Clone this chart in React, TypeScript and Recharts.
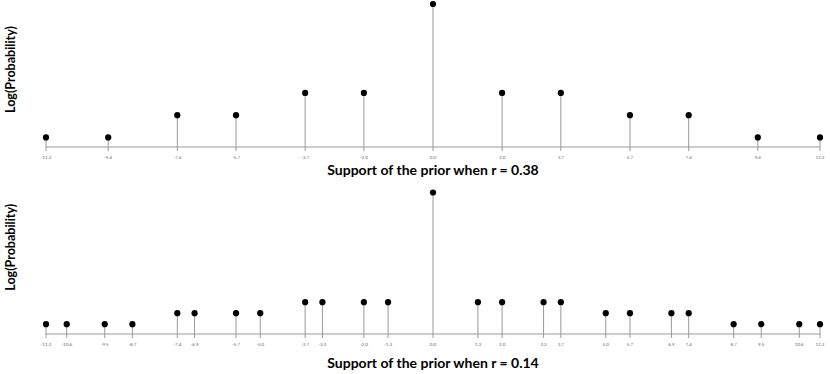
import React from "react";
import {
  ComposedChart,
  Scatter,
  XAxis,
  YAxis,
  ErrorBar,
} from "recharts";

// r = 0.38
const supportTop = [-11.2, -9.4, -7.4, -5.7, -3.7, -2.0, 0, 2.0, 3.7, 5.7, 7.4, 9.4, 11.2];
const logProbTop = [-6, -6, -5, -5, -4, -4, 0, -4, -4, -5, -5, -6, -6];

// r = 0.14
const supportBottom = [
  -11.2, -10.6, -9.5, -8.7, -7.4, -6.9, -5.7, -5.0, -3.7, -3.2, -2.0, -1.3, 0,
  1.3, 2.0, 3.2, 3.7, 5.0, 5.7, 6.9, 7.4, 8.7, 9.5, 10.6, 11.2,
];
const logProbBottom = [
  -12, -12, -12, -12, -11, -11, -11, -11, -10, -10, -10, -10, 0,
  -10, -10, -10, -10, -11, -11, -11, -11, -12, -12, -12, -12,
];

const FONT = "Lato, 'Open Sans', sans-serif";

const Dot = (props: any) => {
  const { cx, cy } = props;
  if (cx == null || cy == null) return null;
  return <circle cx={cx} cy={cy} r={3.1} fill="#000" />;
};

function StemPlot({
  xs,
  ys,
  base,
  title,
  width,
  height,
  top,
  titleOffset,
  labelDy,
}: {
  xs: number[];
  ys: number[];
  base: number;
  title: string;
  width: number;
  height: number;
  top: number;
  titleOffset: number;
  labelDy: number;
}) {
  // the stem is an error bar from the point down to the bottom of the axis
  const data = xs.map((x, i) => ({ x, y: ys[i], stem: [ys[i] - base, 0] }));

  return (
    <ComposedChart
      width={width}
      height={height}
      data={data}
      margin={{ top, right: 10, bottom: 0, left: 0 }}
    >
      <XAxis
        type="number"
        dataKey="x"
        domain={[-11.2, 11.2]}
        ticks={xs}
        interval={0}
        tickFormatter={(v: number) => v.toFixed(1)}
        stroke="#999"
        tickSize={4}
        tickMargin={5}
        tick={{ fontSize: 4.5, fill: "#666", fontFamily: FONT }}
        height={40}
        label={{
          value: title,
          position: "insideTop",
          offset: titleOffset,
          style: {
            fontSize: 14,
            fontWeight: 700,
            fill: "#000",
            fontFamily: FONT,
          },
        }}
      />
      <YAxis
        type="number"
        dataKey="y"
        domain={[base, 0]}
        width={46}
        tick={false}
        axisLine={false}
        tickLine={false}
        label={{
          value: "Log(Probability)",
          angle: -90,
          position: "insideLeft",
          offset: 11,
          dy: labelDy,
          style: {
            textAnchor: "middle",
            fontSize: 12.5,
            fontWeight: 700,
            fill: "#000",
            fontFamily: FONT,
          },
        }}
      />
      <Scatter dataKey="y" shape={<Dot />} isAnimationActive={false}>
        <ErrorBar
          dataKey="stem"
          direction="y"
          width={0}
          stroke="#999"
          strokeWidth={1}
          isAnimationActive={false}
        />
      </Scatter>
    </ComposedChart>
  );
}

export default function App() {
  return (
    <div
      style={{
        position: "absolute",
        left: 0,
        top: 0,
        width: 830,
        height: 374,
        background: "#fff",
      }}
    >
      <div style={{ position: "absolute", left: 0, top: 0 }}>
        <StemPlot
          xs={supportTop}
          ys={logProbTop}
          base={-6.43}
          title="Support of the prior when r = 0.38"
          width={830}
          height={187}
          top={4}
          titleOffset={18}
          labelDy={-6}
        />
      </div>
      <div style={{ position: "absolute", left: 0, top: 180 }}>
        <StemPlot
          xs={supportBottom}
          ys={logProbBottom}
          base={-12.9}
          title="Support of the prior when r = 0.14"
          width={830}
          height={194}
          top={12.5}
          titleOffset={24}
          labelDy={-16}
        />
      </div>
    </div>
  );
}
